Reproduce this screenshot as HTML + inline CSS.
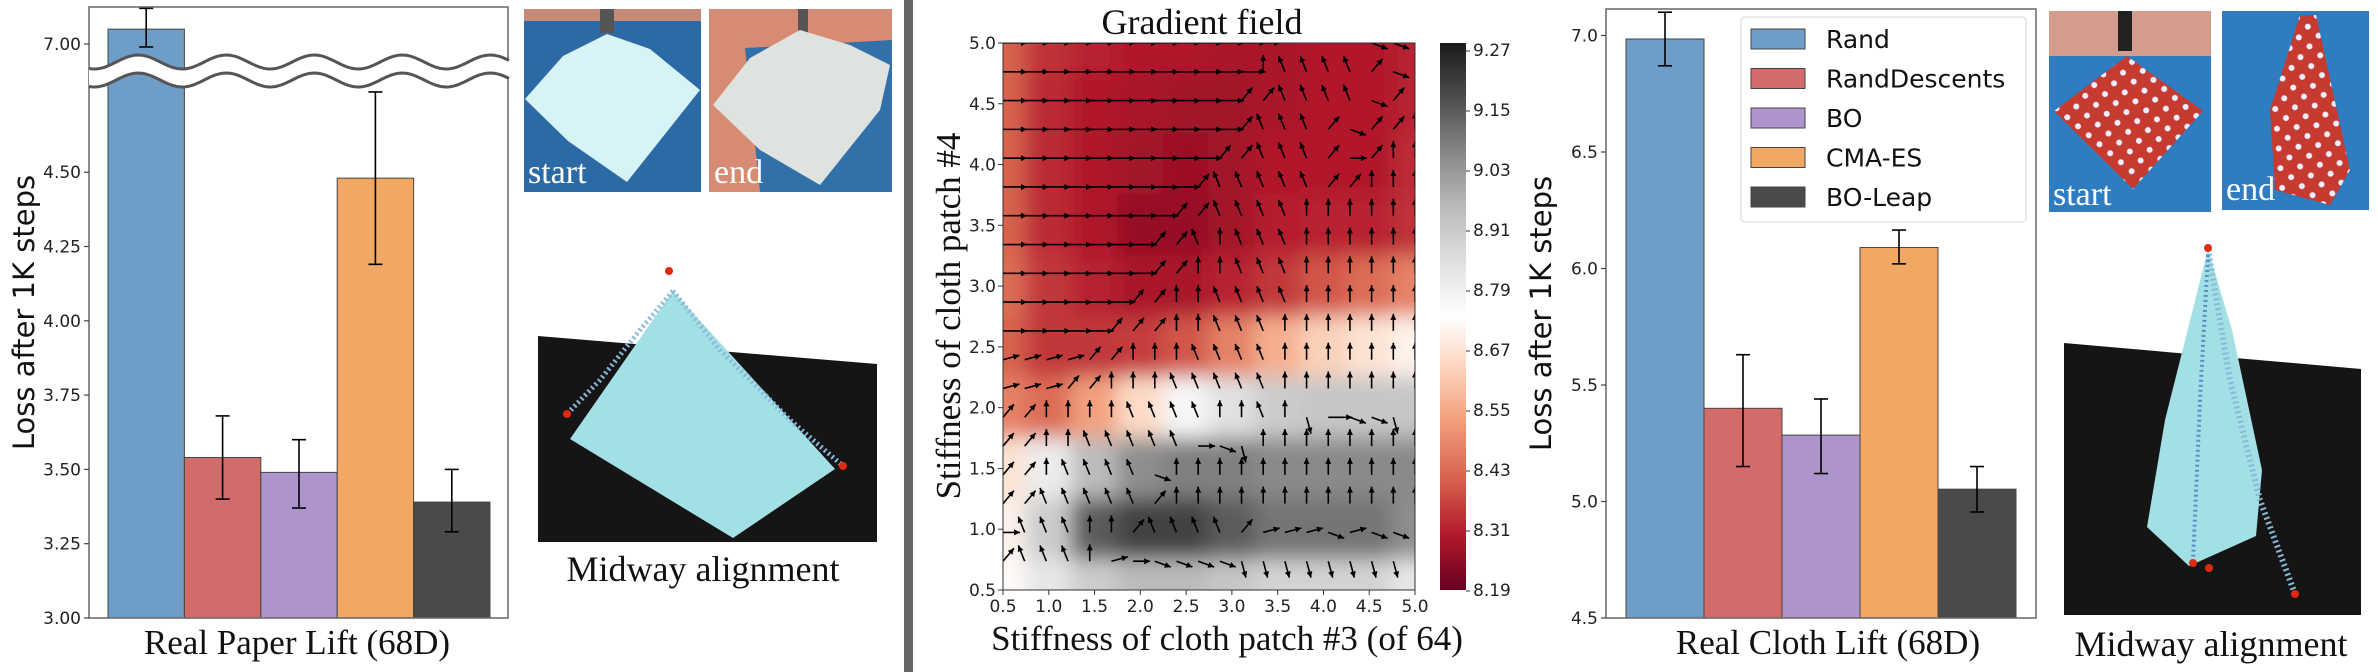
<!DOCTYPE html>
<html><head><meta charset="utf-8">
<style>
html,body{margin:0;padding:0;background:#fff;}
svg{display:block;}
.tick{font-family:"DejaVu Sans","Liberation Sans",sans-serif;font-size:17px;fill:#222;}
.serif{font-family:"Liberation Serif",serif;fill:#111;}
.sans{font-family:"DejaVu Sans","Liberation Sans",sans-serif;fill:#111;}
</style></head>
<body>
<svg id="fig" width="2378" height="672" viewBox="0 0 2378 672" xmlns="http://www.w3.org/2000/svg">
<defs>
  <pattern id="dots" width="14" height="14" patternUnits="userSpaceOnUse" patternTransform="rotate(40)">
    <rect width="14" height="14" fill="#c63a30"/>
    <circle cx="7" cy="7" r="3" fill="#eef"/>
  </pattern>
  <filter id="blur" x="0" y="0" width="100%" height="100%">
    <feGaussianBlur stdDeviation="10" edgeMode="duplicate"/>
  </filter>
  <clipPath id="hclip"><rect x="1003" y="43" width="412" height="547"/></clipPath>
  <linearGradient id="cbar" x1="0" y1="1" x2="0" y2="0">
    <stop offset="0" stop-color="#67001f"/>
    <stop offset="0.1" stop-color="#b2182b"/>
    <stop offset="0.2" stop-color="#d6604d"/>
    <stop offset="0.32" stop-color="#f4a582"/>
    <stop offset="0.42" stop-color="#fddbc7"/>
    <stop offset="0.5" stop-color="#ffffff"/>
    <stop offset="0.6" stop-color="#e0e0e0"/>
    <stop offset="0.7" stop-color="#bababa"/>
    <stop offset="0.8" stop-color="#878787"/>
    <stop offset="0.9" stop-color="#4d4d4d"/>
    <stop offset="1" stop-color="#1a1a1a"/>
  </linearGradient>
</defs>

<rect x="904" y="0" width="9" height="672" fill="#666"/>

<g>
  <rect x="524" y="9" width="177" height="183" fill="#2c6aa6"/>
  <rect x="524" y="9" width="177" height="12" fill="#c68a78"/>
  <rect x="600" y="9" width="14" height="24" fill="#555"/>
  <polygon points="525,99 563,56 607,34 650,49 700,90 627,182 568,141" fill="#d6f3f5"/>
  <text x="528" y="183" class="serif" font-size="34" style="fill:#fff">start</text>
</g>
<g>
  <rect x="709" y="9" width="183" height="183" fill="#d88b73"/>
  <polygon points="745,48 892,40 892,192 760,192" fill="#3270aa"/>
  <rect x="798" y="9" width="10" height="25" fill="#555"/>
  <polygon points="713,105 750,58 800,30 850,45 890,65 880,110 820,185 760,150" fill="#dfe3e0"/>
  <text x="714" y="183" class="serif" font-size="34" style="fill:#fff">end</text>
</g>
<g>
  <polygon points="538,336 877,364 877,542 538,542" fill="#151515"/>
  <polygon points="673,291 835,469 733,538 570,439" fill="#a3e0e6"/>
  <polyline points="673,291 640,330 600,380 567,414" fill="none" stroke="#8ab8d8" stroke-width="5" stroke-dasharray="2 3"/>
  <polyline points="673,291 720,350 790,420 843,466" fill="none" stroke="#8ab8d8" stroke-width="5" stroke-dasharray="2 3"/>
  <circle cx="669" cy="271" r="4" fill="#e02a10"/>
  <circle cx="567" cy="414" r="4" fill="#e02a10"/>
  <circle cx="843" cy="466" r="4" fill="#e02a10"/>
</g>
<text x="703" y="581" text-anchor="middle" class="serif" font-size="36">Midway alignment</text>

<g>
  <rect x="2049" y="11" width="162" height="201" fill="#2f7cc0"/>
  <rect x="2049" y="11" width="162" height="45" fill="#d49c8e"/>
  <rect x="2118" y="11" width="14" height="40" fill="#222"/>
  <polygon points="2127,56 2203,111 2133,189 2054,111" fill="url(#dots)"/>
  <text x="2053" y="205" class="serif" font-size="34" style="fill:#fff">start</text>
</g>
<g>
  <rect x="2222" y="11" width="147" height="199" fill="#2f7cc0"/>
  <polygon points="2300,15 2316,15 2350,170 2330,205 2275,190 2270,110" fill="url(#dots)"/>
  <text x="2226" y="200" class="serif" font-size="34" style="fill:#fff">end</text>
</g>
<g>
  <polygon points="2064,343 2361,369 2361,615 2064,615" fill="#151515"/>
  <polygon points="2208,249 2232,330 2262,470 2256,536 2189,566 2147,527 2165,420" fill="#a3e0e6"/>
  <polyline points="2208,249 2230,380 2260,500 2295,594" fill="none" stroke="#8ab8d8" stroke-width="6" stroke-dasharray="2 3"/>
  <polyline points="2208,255 2200,400 2193,563" fill="none" stroke="#5a8ec8" stroke-width="4" stroke-dasharray="2 3"/>
  <circle cx="2208" cy="248" r="4" fill="#e02a10"/>
  <circle cx="2193" cy="563" r="4" fill="#e02a10"/>
  <circle cx="2209" cy="568" r="4" fill="#e02a10"/>
  <circle cx="2295" cy="594" r="4" fill="#e02a10"/>
</g>
<text x="2211" y="656" text-anchor="middle" class="serif" font-size="36">Midway alignment</text>

<g id="paperChart"></g>
<g id="heatChart"></g>
<g id="clothChart"></g>
</svg>

<script>
const categories = ['Rand','RandDescents','BO','CMA-ES','BO-Leap'];
const barColors = ['#6e9ec8','#d46b6b','#ad94cc','#f0a864','#4a4a4a'];
const paperVals = [7.05, 3.54, 3.49, 4.48, 3.39];
const paperErrLo = [6.99, 3.40, 3.37, 4.19, 3.29];
const paperErrHi = [7.12, 3.68, 3.60, 4.77, 3.50];
const paperTicks = [3.00, 3.25, 3.50, 3.75, 4.00, 4.25, 4.50, 7.00];
const clothVals = [6.985, 5.40, 5.285, 6.09, 5.053];
const clothErrLo = [6.87, 5.15, 5.12, 6.02, 4.955];
const clothErrHi = [7.10, 5.63, 5.44, 6.165, 5.15];
const clothTicks = [4.5, 5.0, 5.5, 6.0, 6.5, 7.0];
const heatXTicks = [0.5,1.0,1.5,2.0,2.5,3.0,3.5,4.0,4.5,5.0];
const heatYTicks = [0.5,1.0,1.5,2.0,2.5,3.0,3.5,4.0,4.5,5.0];
const cbarTicks = [9.27,9.15,9.03,8.91,8.79,8.67,8.55,8.43,8.31,8.19];
const heatGrid = [
 [8.40,8.32,8.30,8.28,8.28,8.27,8.27,8.28,8.28,8.30],
 [8.40,8.31,8.28,8.27,8.26,8.26,8.27,8.28,8.28,8.30],
 [8.40,8.31,8.28,8.26,8.25,8.26,8.28,8.28,8.28,8.31],
 [8.40,8.31,8.28,8.24,8.24,8.26,8.29,8.30,8.30,8.32],
 [8.42,8.33,8.30,8.27,8.27,8.30,8.33,8.38,8.42,8.46],
 [8.40,8.33,8.33,8.34,8.38,8.46,8.55,8.62,8.66,8.70],
 [8.46,8.42,8.52,8.64,8.76,8.84,8.90,8.92,8.92,8.92],
 [8.66,8.80,8.95,9.05,9.08,9.08,9.06,9.06,9.06,9.06],
 [8.70,8.90,9.15,9.20,9.20,9.15,9.10,9.10,9.10,9.05],
 [8.72,8.82,8.90,8.95,8.95,8.92,8.88,8.88,8.88,8.82]
];
const arrowRows = [
 "EEEEEEEEEEEEeqqqqdde",
 "EEEEEEEEEEEEnqqqqade",
 "EEEEEEEEEEEaaqqqqdaa",
 "EEEEEEEEEEEaqqqadaan",
 "EEEEEEEEEEaaqqqaeann",
 "EEEEEEEEEaqqqqqaannn",
 "EEEEEEEEaaqqqqnnnnnn",
 "EEEEEEEaaqnqqqnnnnnn",
 "EEEEEEEaannqqqnnnnnn",
 "EEEEEEaannqqqqnnnnnn",
 "EEEEEaaannqqqnnnnnnn",
 "rrrraannnqqqqnnnnnnn",
 "rrraannnqqqqqnnnnnnn",
 "aannnnqqqqnnqnsEddse",
 "aannqqqqqedsnnnnnnnn",
 "aanqqqqdnnnnnnnnnnnn",
 "aaqqqqqannnnnnnnnnnn",
 "eqqqnnaqqqqarrrdrddd",
 "aqqqnreddddsssssssss",
 "ssssssssssssssssssss"
];
const dirAngles = {E:0,e:0,r:15,a:50,n:90,q:112,d:-20,s:-75};

const NS = 'http://www.w3.org/2000/svg';
function mk(tag, attrs, parent){
  const e = document.createElementNS(NS, tag);
  for (const k in attrs) e.setAttribute(k, attrs[k]);
  parent.appendChild(e);
  return e;
}

function barChart(g, vals, lo, hi, ticks, yFn, x0, bw, axis, fmt, label, labelX) {
  for (let i = 0; i < vals.length; i++) {
    const yTop = yFn(vals[i]);
    const r = mk('rect', {x: x0 + i*bw, y: yTop, width: bw, height: axis.bottom - yTop, fill: barColors[i], stroke: '#444', 'stroke-width': 1}, g);
    
    
    const cx = x0 + i*bw + bw/2;
    const eb = mk('g', {stroke: '#000', 'stroke-width': 1.6}, g);
    
    
    mk('line', {x1: cx, x2: cx, y1: yFn(hi[i]), y2: yFn(lo[i])}, eb);
    mk('line', {x1: cx-7, x2: cx+7, y1: yFn(hi[i]), y2: yFn(hi[i])}, eb);
    mk('line', {x1: cx-7, x2: cx+7, y1: yFn(lo[i]), y2: yFn(lo[i])}, eb);
  }
  const frame = mk('rect', {x: axis.left, y: axis.top, width: axis.right-axis.left, height: axis.bottom-axis.top, fill: 'none', stroke: '#666', 'stroke-width': 1.5}, g);
  
  
  for (const t of ticks) {
    const y = yFn(t);
    mk('line', {x1: axis.left-5, x2: axis.left, y1: y, y2: y, stroke: '#444', 'stroke-width': 1.2}, g);
    const tx = mk('text', {x: axis.left-8, y: y+6, 'text-anchor': 'end', class: 'tick'}, g);
    
    
    tx.textContent = fmt(t);
  }
  const yl = mk('text', {x: 0, y: 0, 'text-anchor': 'middle', class: 'sans', 'font-size': 29, transform: 'translate(' + (axis.left - 55) + ',' + ((axis.top+axis.bottom)/2) + ') rotate(-90)'}, g);
  
  
  yl.textContent = 'Loss after 1K steps';
  const xl = mk('text', {x: labelX, y: 654, 'text-anchor': 'middle', class: 'serif', 'font-size': 35}, g);
  
  
  xl.textContent = label;
}

const pg = document.getElementById('paperChart');
const pAxis = {left: 89, right: 508, top: 7, bottom: 618};
function yP(v){ return v >= 6 ? 44 - (v-7)*297.2 : 618 - (v-3)*297.2; }
barChart(pg, paperVals, paperErrLo, paperErrHi, paperTicks, yP, 108, 76.4, pAxis, t => t.toFixed(2), 'Real Paper Lift (68D)', 297);
(function(){
  const pts1 = [], pts2 = [];
  for (let x = 89; x <= 509; x += 3) {
    const s = Math.sin((x-89)/88*2*Math.PI + 1.2) * 7;
    pts1.push([x, 62 + s]); pts2.push([x, 80 + s]);
  }
  const up = 'M' + pts1.map(p => p[0]+','+p[1].toFixed(1)).join(' L');
  const low = 'M' + pts2.map(p => p[0]+','+p[1].toFixed(1)).join(' L');
  const band = up + ' L' + pts2.slice().reverse().map(p => p[0]+','+p[1].toFixed(1)).join(' L') + ' Z';
  const w = mk('g', {}, pg);
  
  
  mk('path', {d: band, fill: '#fff', stroke: 'none'}, w);
  mk('path', {d: up, fill: 'none', stroke: '#555', 'stroke-width': 3}, w);
  mk('path', {d: low, fill: 'none', stroke: '#555', 'stroke-width': 3}, w);
})();

const cg = document.getElementById('clothChart');
const cAxis = {left: 1606, right: 2036, top: 9, bottom: 618};
function yC(v){ return 618 - (v-4.5)*233; }
barChart(cg, clothVals, clothErrLo, clothErrHi, clothTicks, yC, 1626, 78, cAxis, t => t.toFixed(1), 'Real Cloth Lift (68D)', 1828);
(function(){
  const lg = mk('g', {}, cg);
  
  
  mk('rect', {x: 1741, y: 17, width: 285, height: 205, rx: 4, fill: '#fff', stroke: '#ddd', 'stroke-width': 1.2}, lg);
  for (let i = 0; i < categories.length; i++) {
    const cy = 39 + i*39.5;
    const e = mk('g', {}, lg);
    
    
    mk('rect', {x: 1751, y: cy-10, width: 54, height: 20, fill: barColors[i], stroke: '#444', 'stroke-width': 1}, e);
    const t = mk('text', {x: 1826, y: cy+9, class: 'sans', 'font-size': 25}, e);
    t.textContent = categories[i];
  }
})();

const hg = document.getElementById('heatChart');
function xH(v){ return 1003 + (v-0.5)/4.5*412; }
function yH(v){ return 590 - (v-0.5)/4.5*547; }
const cStops = [[0,'#67001f'],[0.1,'#b2182b'],[0.2,'#d6604d'],[0.32,'#f4a582'],[0.42,'#fddbc7'],[0.5,'#ffffff'],[0.6,'#e0e0e0'],[0.7,'#bababa'],[0.8,'#878787'],[0.9,'#4d4d4d'],[1,'#1a1a1a']];
function hex(h){ return [parseInt(h.slice(1,3),16),parseInt(h.slice(3,5),16),parseInt(h.slice(5,7),16)]; }
function cmap(v){
  let t = (v - 8.17)/(9.29-8.17); t = Math.max(0, Math.min(1, t));
  for (let i = 1; i < cStops.length; i++) {
    if (t <= cStops[i][0]) {
      const a = cStops[i-1], b = cStops[i], f = (t-a[0])/(b[0]-a[0]);
      const ca = hex(a[1]), cb = hex(b[1]);
      return 'rgb(' + ca.map((c,k) => Math.round(c + (cb[k]-c)*f)).join(',') + ')';
    }
  }
  return '#1a1a1a';
}
(function(){
  const clip = mk('g', {'clip-path': 'url(#hclip)'}, hg);
  const cells = mk('g', {filter: 'url(#blur)'}, clip);
  
  
  mk('rect', {x: 1003, y: 43, width: 412, height: 547, fill: cmap(8.6)}, cells);
  const n = heatGrid.length;
  for (let r = 0; r < n; r++) {
    const yv = 5.0 - r*0.5;
    for (let c = 0; c < heatGrid[r].length; c++) {
      const xv = 0.5 + c*0.5;
      const x0 = xH(xv - 0.25), x1 = xH(xv + 0.25), y0 = yH(yv + 0.25), y1 = yH(yv - 0.25);
      const cell = mk('rect', {x: x0-0.5, y: y0-0.5, width: x1-x0+1, height: y1-y0+1, fill: cmap(heatGrid[r][c])}, cells);
      
      
    }
  }
  const ag = mk('g', {stroke: '#000', fill: '#000'}, clip);
  
  
  const nr = arrowRows.length;
  for (let r = 0; r < nr; r++) {
    const yv = 5.0 - r*4.5/(nr-1);
    for (let c = 0; c < arrowRows[r].length; c++) {
      const ch = arrowRows[r][c];
      const xv = 0.5 + c*4.5/19;
      const ang = dirAngles[ch] * Math.PI/180;
      const len = ch === 'E' ? 24 : 17;
      const bx = xH(xv), by = yH(yv);
      const ex = bx + Math.cos(ang)*len, ey = by - Math.sin(ang)*len;
      const a = mk('g', {}, ag);
      
      
      mk('line', {x1: bx, y1: by, x2: ex, y2: ey, 'stroke-width': 1.6}, a);
      const hx = Math.cos(ang), hy = -Math.sin(ang);
      const px = -hy, py = hx;
      const h1x = ex - hx*6 + px*3, h1y = ey - hy*6 + py*3;
      const h2x = ex - hx*6 - px*3, h2y = ey - hy*6 - py*3;
      mk('polygon', {points: ex+','+ey+' '+h1x+','+h1y+' '+h2x+','+h2y, stroke: 'none'}, a);
    }
  }
  const fr = mk('rect', {x: 1003, y: 43, width: 412, height: 547, fill: 'none', stroke: '#333', 'stroke-width': 1}, hg);
  
  
  for (const t of heatXTicks) {
    mk('line', {x1: xH(t), x2: xH(t), y1: 590, y2: 595, stroke: '#333'}, hg);
    const tx = mk('text', {x: xH(t), y: 612, 'text-anchor': 'middle', class: 'tick', 'font-size': 16}, hg);
    
    
    tx.textContent = t.toFixed(1);
  }
  for (const t of heatYTicks) {
    mk('line', {x1: 998, x2: 1003, y1: yH(t), y2: yH(t), stroke: '#333'}, hg);
    const tx = mk('text', {x: 996, y: yH(t)+6, 'text-anchor': 'end', class: 'tick', 'font-size': 16}, hg);
    
    
    tx.textContent = t.toFixed(1);
  }
  const title = mk('text', {x: 1202, y: 34, 'text-anchor': 'middle', class: 'serif', 'font-size': 36}, hg);
  
  
  title.textContent = 'Gradient field';
  const xl = mk('text', {x: 1227, y: 650, 'text-anchor': 'middle', class: 'serif', 'font-size': 35}, hg);
  
  
  xl.textContent = 'Stiffness of cloth patch #3 (of 64)';
  const yl = mk('text', {x: 0, y: 0, 'text-anchor': 'middle', class: 'serif', 'font-size': 35, transform: 'translate(960,316) rotate(-90)'}, hg);
  
  
  yl.textContent = 'Stiffness of cloth patch #4';
  const cb = mk('rect', {x: 1440, y: 43, width: 26, height: 547, fill: 'url(#cbar)'}, hg);
  
  
  for (let i = 0; i < cbarTicks.length; i++) {
    const y = 51 + (9.27 - cbarTicks[i]) / 0.12 * 60;
    mk('line', {x1: 1466, x2: 1470, y1: y, y2: y, stroke: '#333'}, hg);
    const tx = mk('text', {x: 1473, y: y+5, class: 'tick', 'font-size': 15}, hg);
    
    
    tx.textContent = cbarTicks[i].toFixed(2);
  }
})();
</script>
</body></html>
